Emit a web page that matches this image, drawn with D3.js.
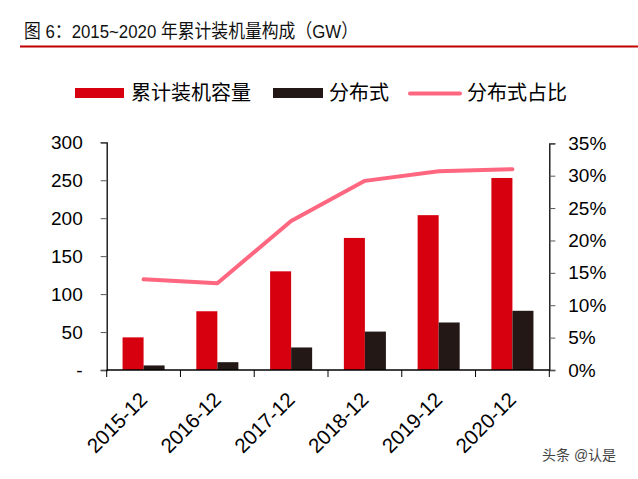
<!DOCTYPE html>
<html><head><meta charset="utf-8">
<script src="https://cdn.jsdelivr.net/npm/d3@7"></script>
<style>
body{margin:0;background:#fff;}
text{font-family:"Liberation Sans","Noto Sans CJK SC",sans-serif;}
</style></head>
<body><svg id="c" width="638" height="479"></svg>
<script>
const categories = ["2015-12","2016-12","2017-12","2018-12","2019-12","2020-12"];
const cumulative = [43, 77.4, 130, 174, 204, 253];
const distributed = [6, 10.3, 29.7, 50.6, 62.6, 78];
const shareRatio = [0.140, 0.134, 0.230, 0.292, 0.307, 0.310];
const leftTicks = [0,50,100,150,200,250,300];
const leftTickLabels = ["-","50","100","150","200","250","300"];
const rightTicks = [0,0.05,0.1,0.15,0.2,0.25,0.3,0.35];
const seriesNames = ["累计装机容量","分布式","分布式占比"];
const titleText = "图 6：2015~2020 年累计装机量构成（GW）";

const RED="#d7000f", BLACK="#231815", PINK="#ff6680";
const svg = d3.select("#c");
const L=106.7, R=549.3, T=142.3, B=370;

// title
svg.append("text").attr("x",24).attr("y",37.5).attr("font-size",19).attr("fill","#111")
  .attr("textLength",334).attr("lengthAdjust","spacingAndGlyphs").text(titleText);
svg.append("line").attr("x1",20).attr("x2",638).attr("y1",46.5).attr("y2",46.5).attr("stroke","#c00000").attr("stroke-width",2);

const x = d3.scaleBand().domain(categories).range([L,R]).paddingInner(0.43).paddingOuter(0.215);
const xb = d3.scaleBand().domain(categories).range([L,R]);
const y = d3.scaleLinear().domain([0,300]).range([B,T]);
const y2 = d3.scaleLinear().domain([0,0.35]).range([B,T+1]);
const bw = x.bandwidth()/2;

// bars
svg.append("g").selectAll("rect").data(cumulative).join("rect")
  .attr("x",(d,i)=>x(categories[i])).attr("width",bw)
  .attr("y",d=>y(d)).attr("height",d=>B-y(d)).attr("fill",RED);
svg.append("g").selectAll("rect").data(distributed).join("rect")
  .attr("x",(d,i)=>x(categories[i])+bw).attr("width",bw)
  .attr("y",d=>y(d)).attr("height",d=>B-y(d)).attr("fill",BLACK);

// line
const line = d3.line().x((d,i)=>x(categories[i])+bw).y(d=>y2(d));
svg.append("path").datum(shareRatio).attr("d",line).attr("fill","none")
  .attr("stroke",PINK).attr("stroke-width",4).attr("stroke-linecap","round").attr("stroke-linejoin","round");

// axes
const gl = svg.append("g").attr("transform",`translate(${L},0)`)
  .call(d3.axisLeft(y).tickValues(leftTicks).tickSize(6).tickPadding(18).tickFormat((d,i)=>leftTickLabels[i]));
const gr = svg.append("g").attr("transform",`translate(${R},0)`)
  .call(d3.axisRight(y2).tickValues(rightTicks).tickSize(6).tickPadding(13).tickFormat(d=>Math.round(d*100)+"%"));
const gx = svg.append("g").attr("transform",`translate(0,${B})`)
  .call(d3.axisBottom(xb).tickSize(7).tickFormat(""));
gx.selectAll(".tick").remove();
gx.append("g").selectAll("line").data(d3.range(categories.length+1)).join("line")
  .attr("x1",i=>L+i*xb.step()).attr("x2",i=>L+i*xb.step()).attr("y1",0).attr("y2",7).attr("stroke","#000");
gx.append("g").selectAll("text").data(categories).join("text")
  .attr("transform",d=>`translate(${xb(d)+xb.bandwidth()/2+5},${31}) rotate(-45)`)
  .attr("text-anchor","end").attr("font-size",20.5).attr("fill","#000").text(d=>d);
[gl,gr,gx].forEach(g=>{
  g.select(".domain").attr("stroke","#000").attr("stroke-width",1.3);
  g.selectAll(".tick line").attr("stroke","#555");
  g.selectAll(".tick text").attr("font-size",19).attr("fill","#000")
   .style("font-family",'"Liberation Sans",sans-serif');
});
gx.select(".domain").attr("d",`M${L},0H${R}`);

// legend
const lg = svg.append("g");
lg.append("rect").attr("x",75).attr("y",88).attr("width",49).attr("height",10).attr("fill",RED);
lg.append("text").attr("x",131).attr("y",100).attr("font-size",20).text(seriesNames[0]);
lg.append("rect").attr("x",273).attr("y",88).attr("width",50).attr("height",10).attr("fill",BLACK);
lg.append("text").attr("x",329).attr("y",100).attr("font-size",20).text(seriesNames[1]);
lg.append("line").attr("x1",410).attr("x2",460).attr("y1",93.5).attr("y2",93.5).attr("stroke",PINK).attr("stroke-width",4).attr("stroke-linecap","round");
lg.append("text").attr("x",467).attr("y",100).attr("font-size",20).text(seriesNames[2]);

// watermark
svg.append("text").attr("x",542).attr("y",460).attr("font-size",14).attr("fill","#444").text("头条 @认是");
</script></body></html>
